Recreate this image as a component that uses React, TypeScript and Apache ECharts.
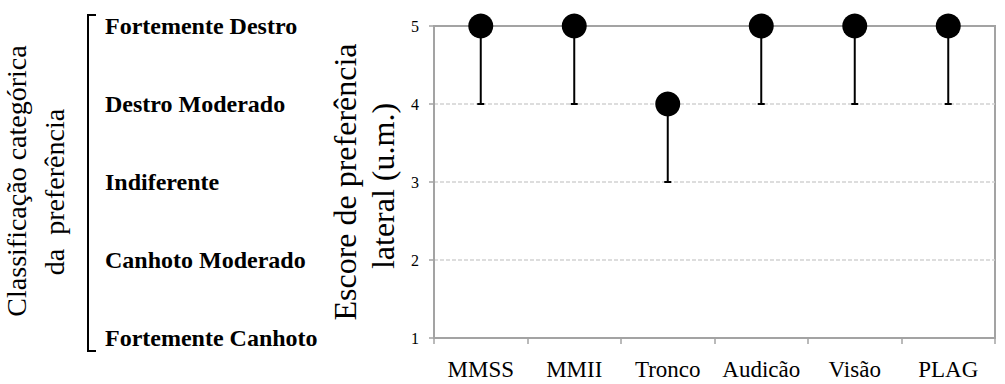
import React, { useEffect, useRef } from "react";
import * as echarts from "echarts";

const categories = ["MMSS", "MMII", "Tronco", "Audicão", "Visão", "PLAG"];
const scores = [5, 5, 4, 5, 5, 5];
const lowerBounds = [4, 4, 3, 4, 4, 4];
const preferenceLabels: Record<number, string> = {
  5: "Fortemente Destro",
  4: "Destro Moderado",
  3: "Indiferente",
  2: "Canhoto Moderado",
  1: "Fortemente Canhoto",
};
const leftTitleLines = ["Classificação categórica", "da  preferência"];
const yTitleLines = ["Escore de preferência", "lateral (u.m.)"];

const SERIF = "Liberation Serif";
const GRAY = "#a3a3a3";

export default function App() {
  const ref = useRef<HTMLDivElement>(null);
  useEffect(() => {
    document.body.style.margin = "0";
    if (!ref.current) return;
    const chart = echarts.init(ref.current, undefined, { renderer: "svg" });
    const errData = categories.map((_, i) => [i, lowerBounds[i], scores[i]]);
    const rotText = (text: string, x: number, y: number, size: number) => ({
      type: "text",
      x,
      y,
      rotation: Math.PI / 2,
      style: {
        text,
        fontFamily: SERIF,
        fontSize: size,
        fill: "#000",
        align: "center",
        verticalAlign: "middle",
      },
    });
    chart.setOption({
      animation: false,
      backgroundColor: "#ffffff",
      textStyle: { fontFamily: SERIF },
      grid: {
        left: 434,
        top: 26,
        right: 10,
        bottom: 46,
        show: true,
        borderColor: GRAY,
        borderWidth: 2,
      },
      xAxis: {
        type: "category",
        data: categories,
        boundaryGap: true,
        axisLine: { show: true, lineStyle: { color: GRAY, width: 2 } },
        axisTick: { show: true, length: 6, lineStyle: { color: GRAY, width: 1.5 } },
        axisLabel: {
          color: "#000",
          fontFamily: SERIF,
          fontSize: 23,
          margin: 20,
          interval: 0,
        },
        splitLine: { show: false },
      },
      yAxis: [
        {
          type: "value",
          min: 1,
          max: 5,
          interval: 1,
          axisLine: { show: true, lineStyle: { color: GRAY, width: 2 } },
          axisTick: { show: true, length: 5, lineStyle: { color: GRAY, width: 1.5 } },
          axisLabel: { color: "#000", fontFamily: SERIF, fontSize: 16, margin: 15 },
          splitLine: {
            show: true,
            showMinLine: false,
            showMaxLine: false,
            lineStyle: { color: "#d2d2d2", type: [4, 2], width: 1.5 },
          },
        },
        {
          type: "value",
          min: 1,
          max: 5,
          interval: 1,
          position: "left",
          axisLine: { show: false },
          axisTick: { show: false },
          splitLine: { show: false },
          axisLabel: {
            color: "#000",
            fontFamily: SERIF,
            fontWeight: "bold",
            fontSize: 24,
            align: "left",
            margin: 329,
            formatter: (v: number) => preferenceLabels[v] ?? "",
          },
        },
      ],
      graphic: [
        {
          type: "polyline",
          shape: { points: [[96, 15], [88, 15], [88, 351], [96, 351]] },
          style: { stroke: "#000", lineWidth: 2, fill: "none" },
        },
        rotText(leftTitleLines[0], 16, 181, 28),
        rotText(leftTitleLines[1], 54, 192, 28),
        rotText(yTitleLines[0], 345, 182, 32),
        rotText(yTitleLines[1], 383, 186, 32),
      ],
      series: [
        {
          type: "custom",
          data: errData,
          clip: false,
          z: 3,
          renderItem: (params: any, api: any) => {
            const i = api.value(0);
            const lo = api.coord([i, api.value(1)]);
            const hi = api.coord([i, api.value(2)]);
            const cap = 3.5;
            return {
              type: "group",
              children: [
                {
                  type: "line",
                  shape: { x1: hi[0], y1: hi[1], x2: lo[0], y2: lo[1] },
                  style: { stroke: "#000", lineWidth: 2 },
                },
                {
                  type: "line",
                  shape: { x1: lo[0] - cap, y1: lo[1], x2: lo[0] + cap, y2: lo[1] },
                  style: { stroke: "#000", lineWidth: 2 },
                },
              ],
            };
          },
        },
        {
          type: "scatter",
          data: scores,
          symbol: "circle",
          symbolSize: 25,
          clip: false,
          z: 4,
          itemStyle: { color: "#000", opacity: 1 },
        },
      ],
    });
    return () => chart.dispose();
  }, []);
  return <div ref={ref} style={{ width: 1005, height: 384 }} />;
}
